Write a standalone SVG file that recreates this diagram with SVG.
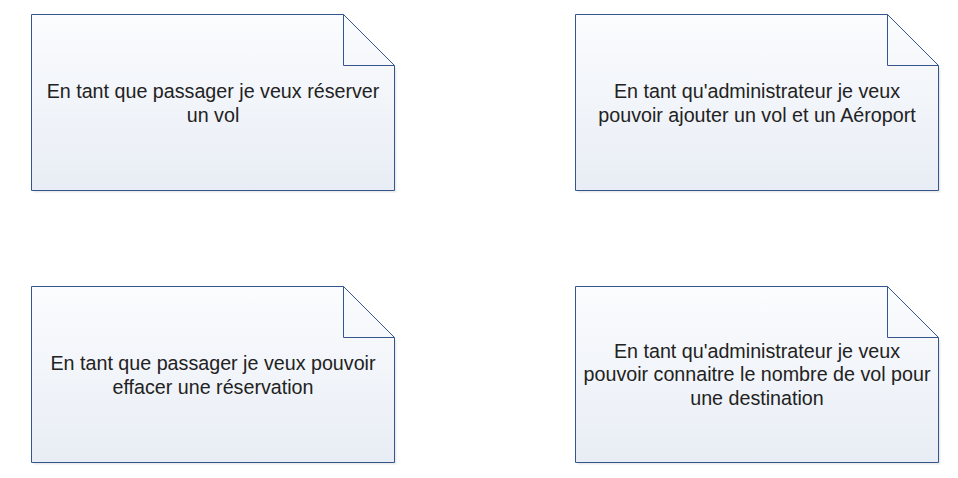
<svg xmlns="http://www.w3.org/2000/svg" width="958" height="478" viewBox="0 0 958 478">
<defs>
<linearGradient id="g" x1="0" y1="0" x2="0" y2="1">
<stop offset="0" stop-color="#fbfcfe"/>
<stop offset="1" stop-color="#e8edf5"/>
</linearGradient>
<style>
.shadow{fill:#ebebeb}
.note{fill:url(#g);stroke:#34568c;stroke-width:1}
.fold{fill:none;stroke:#34568c;stroke-width:1}
text{font-family:"Liberation Sans",Arial,sans-serif;font-size:19.7px;fill:#222;text-anchor:middle}
</style>
</defs>
<rect width="958" height="478" fill="#fff"/>
<g id="connectors"/>
<g id="note1">
<path class="shadow" d="M33.5 192.5H396.5V67.5H394.5V190.5H33.5Z"/>
<path class="note" d="M31.5 14.5H343.5L394.5 65.5V190.5H31.5Z"/>
<path class="fold" d="M343.5 14.5V65.5H394.5"/>
<text x="213" y="97.7">En tant que passager je veux réserver</text>
<text x="213" y="121.7">un vol</text>
</g>
<g id="note2">
<path class="shadow" d="M577.5 192.5H940.5V67.5H938.5V190.5H577.5Z"/>
<path class="note" d="M575.5 14.5H887.5L938.5 65.5V190.5H575.5Z"/>
<path class="fold" d="M887.5 14.5V65.5H938.5"/>
<text x="757" y="97.7">En tant qu'administrateur je veux</text>
<text x="757" y="121.7">pouvoir ajouter un vol et un Aéroport</text>
</g>
<g id="note3">
<path class="shadow" d="M33.5 464.5H396.5V339.5H394.5V462.5H33.5Z"/>
<path class="note" d="M31.5 286.5H343.5L394.5 337.5V462.5H31.5Z"/>
<path class="fold" d="M343.5 286.5V337.5H394.5"/>
<text x="213" y="369.5">En tant que passager je veux pouvoir</text>
<text x="213" y="393.5">effacer une réservation</text>
</g>
<g id="note4">
<path class="shadow" d="M577.5 464.5H940.5V339.5H938.5V462.5H577.5Z"/>
<path class="note" d="M575.5 286.5H887.5L938.5 337.5V462.5H575.5Z"/>
<path class="fold" d="M887.5 286.5V337.5H938.5"/>
<text x="757" y="357.7">En tant qu'administrateur je veux</text>
<text x="757" y="381.2">pouvoir connaitre le nombre de vol pour</text>
<text x="757" y="404.7">une destination</text>
</g>
</svg>
